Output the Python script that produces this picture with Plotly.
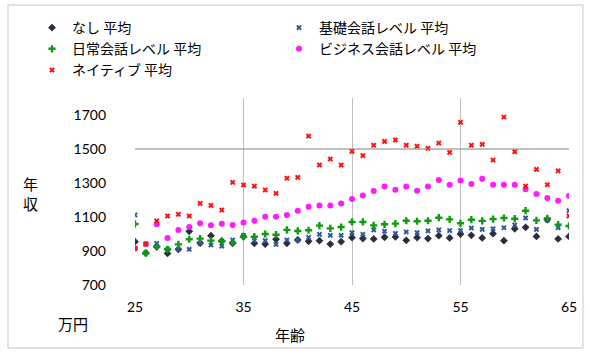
import plotly.graph_objects as go

ages = list(range(25, 66))

nashi = [955, 888, 925, 886, 910, 1016, 947, 990, 959, 945,
         984, 945, 941, 969, 945, 965, 957, 961, 941, 955,
         979, 973, 971, 981, 983, 963, 979, 973, 990, 977,
         1000, 992, 977, 1002, 961, 1031, 1039, 986, 1085, 971, 986]

kiso = [1112, 890, 945, 910, 910, 910, 945, 935, 929, 965,
        992, 961, 961, 939, 965, 965, 980, 998, 992, 992,
        1008, 998, 1024, 1016, 1004, 1012, 1008, 1018, 1024, 1020,
        1020, 1035, 1027, 1031, 1037, 1053, 1094, 1027, 1082, 1037, 1137]

nichijo = [1059, 887, 926, 910, 939, 969, 973, 961, 957, 949,
           984, 984, 1000, 996, 1024, 1018, 1022, 1049, 1033, 1041,
           1071, 1071, 1051, 1057, 1061, 1078, 1075, 1078, 1096, 1086,
           1063, 1084, 1077, 1088, 1094, 1090, 1137, 1080, 1092, 1055, 1047]

business = [914, 941, 1057, 977, 1024, 1041, 1063, 1051, 1061, 1053,
            1067, 1078, 1102, 1102, 1112, 1137, 1161, 1167, 1167, 1180,
            1206, 1227, 1253, 1280, 1261, 1280, 1255, 1280, 1318, 1290,
            1314, 1294, 1325, 1290, 1290, 1290, 1263, 1235, 1212, 1196, 1225]

native = [916, 941, 1077, 1106, 1116, 1106, 1180, 1168, 1141, 1304,
          1288, 1282, 1259, 1239, 1328, 1333, 1576, 1406, 1441, 1406,
          1486, 1461, 1522, 1545, 1553, 1522, 1516, 1504, 1535, 1480,
          1657, 1522, 1527, 1435, 1688, 1484, 1282, 1380, 1290, 1371, 1106]

series_names = ["なし 平均", "基礎会話レベル 平均", "日常会話レベル 平均",
                "ビジネス会話レベル 平均", "ネイティブ 平均"]

x_ticks = [25, 35, 45, 55, 65]
y_ticks = [700, 900, 1100, 1300, 1500, 1700]
ref_line = 1500

jp = "Noto Sans CJK JP"
num = "Lato"

styles = [
    dict(symbol="diamond", color="#2a2f3e", size=6),
    dict(symbol="x", color="#2f5a98", size=5),
    dict(symbol="cross", color="#0f9a0f", size=6),
    dict(symbol="circle", color="#ff1aff", size=6),
    dict(symbol="x", color="#ff1010", size=5),
]
data = [nashi, kiso, nichijo, business, native]

fig = go.Figure()
for name, vals, st in zip(series_names, data, styles):
    fig.add_trace(go.Scatter(
        x=ages, y=vals, mode="markers", name=name,
        marker=dict(symbol=st["symbol"], color=st["color"], size=st["size"],
                    line=dict(width=0)),
    ))

fig.add_shape(type="line", xref="paper", yref="y", x0=0, x1=1,
              y0=ref_line, y1=ref_line, line=dict(color="#808080", width=1))

fig.add_shape(type="rect", xref="paper", yref="paper",
              x0=-0.2926, x1=1.032, y0=-0.337, y1=1.497,
              line=dict(color="#d9d9d9", width=1.5), layer="below")

def px_x(p):
    return (p - 135) / 434

def px_y(p):
    return (285 - p) / 187

ann_font = dict(family=jp, size=15, color="#000")
fig.add_annotation(text="年<br>収", xref="paper", yref="paper",
                   x=px_x(30), y=px_y(193), xanchor="center", yanchor="middle",
                   showarrow=False, font=ann_font)
fig.add_annotation(text="万円", xref="paper", yref="paper",
                   x=px_x(73), y=px_y(323), xanchor="center", yanchor="middle",
                   showarrow=False, font=ann_font)
fig.add_annotation(text="年齢", xref="paper", yref="paper",
                   x=px_x(290), y=px_y(334), xanchor="center", yanchor="middle",
                   showarrow=False, font=ann_font)

fig.update_layout(
    width=590, height=357,
    margin=dict(l=135, r=21, t=98, b=72, autoexpand=False),
    paper_bgcolor="white", plot_bgcolor="white",
    showlegend=True,
    legend=dict(orientation="h", x=px_x(32), xanchor="left",
                y=px_y(12), yanchor="top",
                entrywidth=202, entrywidthmode="pixels",
                font=dict(family=jp, size=14, color="#000"),
                bgcolor="rgba(0,0,0,0)", tracegroupgap=0),
    xaxis=dict(range=[25, 65], tickvals=x_ticks, showgrid=True,
               gridcolor="#bfbfbf", gridwidth=1, zeroline=False,
               showline=False, ticks="", ticklabelstandoff=12,
               tickfont=dict(family=num, size=14, color="#000")),
    yaxis=dict(range=[700, 1800], tickvals=y_ticks, showgrid=False,
               zeroline=False, showline=False, ticks="",
               ticklabelstandoff=28,
               tickfont=dict(family=num, size=14, color="#000")),
)

fig.write_html("out.html", config={"displayModeBar": False},
               post_script="document.body.style.margin='0';document.body.style.padding='0';")
